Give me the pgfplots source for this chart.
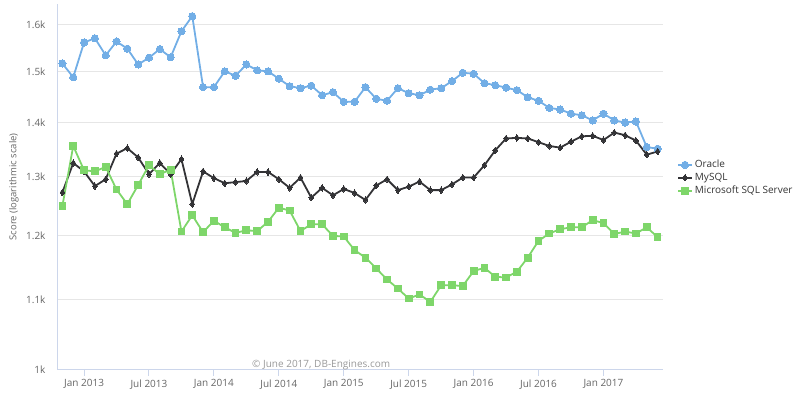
\documentclass[border=0pt]{standalone}
\usepackage{pgfplots}
\pgfplotsset{compat=1.18}
\usepackage{pgfplotstable}
\usepackage{fontspec}
\setmainfont{Open Sans}
\definecolor{oraclec}{HTML}{72AEE6}
\definecolor{mysqlc}{HTML}{333336}
\definecolor{mssqlc}{HTML}{7ED66A}
\definecolor{axisc}{HTML}{CCD6EB}
\definecolor{gridc}{HTML}{E6E6E6}
\definecolor{labc}{HTML}{666666}
\definecolor{legc}{HTML}{333333}
\definecolor{copyc}{HTML}{999999}

\pgfplotstableread{
m  oracle mysql mssql
-2 1517 1273 1250
-1 1489 1325 1356
0 1561 1310 1312
1 1570 1284 1310
2 1534 1296 1318
3 1563 1342 1278
4 1548 1352 1253
5 1515 1335 1286
6 1529 1305 1321
7 1547 1325 1305
8 1530 1305 1313
9 1585 1332 1207
10 1618 1253 1234
11 1469 1310 1206
12 1469 1298 1225
13 1501 1289 1214
14 1492 1291 1205
15 1515 1293 1209
16 1503 1309 1208
17 1501 1309 1223
18 1486 1296 1247
19 1471 1281 1242
20 1467 1299 1208
21 1472 1264 1219
22 1453 1281 1219
23 1459 1268 1200
24 1440 1279 1199
25 1440 1272 1177
26 1469 1260 1165
27 1446 1285 1148
28 1442 1296 1131
29 1467 1277 1117
30 1457 1283 1102
31 1453 1292 1108
32 1464 1277 1097
33 1467 1277 1122
34 1481 1287 1122
35 1498 1299 1121
36 1496 1299 1144
37 1477 1321 1149
38 1473 1348 1135
39 1468 1370 1134
40 1463 1371 1143
41 1449 1370 1165
42 1442 1363 1192
43 1428 1356 1204
44 1425 1353 1211
45 1417 1364 1214
46 1414 1374 1214
47 1404 1375 1226
48 1417 1367 1221
49 1404 1381 1203
50 1400 1376 1207
51 1402 1366 1204
52 1354 1340 1214
53 1351 1346 1198
}\datatable

\begin{document}
\begin{tikzpicture}
\useasboundingbox (0pt,0pt) rectangle (805pt,415pt);
\begin{axis}[
  at={(57pt,45pt)}, anchor=south west,
  scale only axis, width=606pt, height=366pt,
  xmin=-2.5, xmax=53.5,
  ymode=log, ymin=1000, ymax=1645,
  clip=false,
  axis x line*=bottom, axis y line*=left,
  axis line style={color=axisc, line width=1pt},
  xtick={0,6,12,18,24,30,36,42,48},
  xticklabels={Jan 2013,Jul 2013,Jan 2014,Jul 2014,Jan 2015,Jul 2015,Jan 2016,Jul 2016,Jan 2017},
  ytick={1000,1100,1200,1300,1400,1500,1600},
  yticklabels={1k,1.1k,1.2k,1.3k,1.4k,1.5k,1.6k},
  yminorticks=false, xminorticks=false,
  tick align=outside, major tick length=6pt,
  xtick style={color=axisc, line width=1pt},
  ytick style={draw=none},
  ymajorgrids, grid style={color=gridc, line width=1pt},
  tick label style={font=\fontsize{10}{12}\selectfont, text=labc},
  yticklabel style={xshift=-2pt},
  ylabel={Score (logarithmic scale)},
  ylabel style={at={(axis description cs:-0.071,0.5)}, anchor=center, font=\fontsize{9.5}{11}\selectfont, text=labc},
  legend style={at={(axis description cs:1.023,0.525)}, anchor=west, draw=none, fill=none,
    font=\fontsize{10}{12}\selectfont, text=legc, row sep=0pt, inner sep=0pt, nodes={inner sep=2pt}},
  legend cell align=left,
  legend image code/.code={\draw[mark repeat=2,mark phase=2] plot coordinates {(0pt,0pt)(7pt,0pt)(14pt,0pt)};},
]
\addplot[color=oraclec, line width=1.8pt, mark=*, mark size=3.6pt, mark options={fill=oraclec, draw=oraclec, line width=0pt}] table[x=m, y=oracle] {\datatable};
\addlegendentry{Oracle}
\addplot[color=mysqlc, line width=1.8pt, mark=diamond*, mark size=3.2pt, mark options={fill=mysqlc, draw=mysqlc, line width=0pt}] table[x=m, y=mysql] {\datatable};
\addlegendentry{MySQL}
\addplot[color=mssqlc, line width=1.8pt, mark=square*, mark size=3.4pt, mark options={fill=mssqlc, draw=mssqlc, line width=0pt}] table[x=m, y=mssql] {\datatable};
\addlegendentry{Microsoft SQL Server}
\node[anchor=base, font=\fontsize{10}{12}\selectfont, text=copyc] at (rel axis cs:0.436,0.006) {© June 2017, DB-Engines.com};
\end{axis}
\end{tikzpicture}
\end{document}
